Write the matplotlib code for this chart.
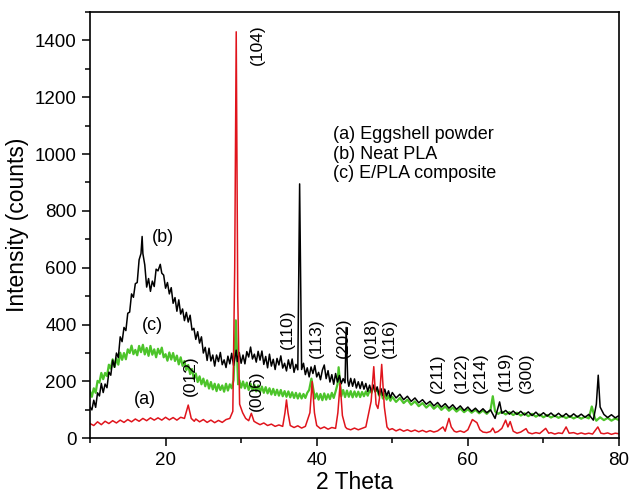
import matplotlib
matplotlib.use("Agg")
import matplotlib.pyplot as plt
from matplotlib.ticker import MultipleLocator

plt.rcParams['font.family'] = ['Liberation Sans', 'DejaVu Sans']

# (b) Neat PLA
pla_x = [10.0, 10.25, 10.5, 10.75, 11.0, 11.25, 11.5, 11.75, 12.0, 12.25, 12.5, 12.75, 13.0, 13.25, 13.5, 13.75,
         14.0, 14.25, 14.5, 14.75, 15.0, 15.25, 15.5, 15.75, 16.0, 16.25, 16.5, 16.75, 16.9, 17.0, 17.25, 17.5,
         17.75, 18.0, 18.25, 18.5, 18.75, 19.0, 19.3, 19.5, 19.75, 20.0, 20.25, 20.5, 20.75, 21.0, 21.25, 21.5,
         21.75, 22.0, 22.25, 22.5, 22.75, 23.0, 23.25, 23.5, 23.75, 24.0, 24.25, 24.5, 24.75, 25.0, 25.25, 25.5,
         25.75, 26.0, 26.25, 26.5, 26.75, 27.0, 27.25, 27.5, 27.75, 28.0, 28.25, 28.5, 28.75, 29.0, 29.35, 29.5,
         29.75, 30.0, 30.25, 30.5, 30.75, 31.0, 31.25, 31.5, 31.75, 32.0, 32.25, 32.5, 32.75, 33.0, 33.25, 33.5,
         33.75, 34.0, 34.25, 34.5, 34.75, 35.0, 35.25, 35.5, 35.75, 36.0, 36.25, 36.5, 36.75, 37.0, 37.25, 37.5,
         37.74, 38.0, 38.25, 38.5, 38.75, 39.0, 39.25, 39.5, 39.75, 40.0, 40.25, 40.5, 40.75, 41.0, 41.25, 41.5,
         41.75, 42.0, 42.25, 42.5, 42.75, 43.0, 43.25, 43.5, 43.75, 43.9, 44.1, 44.25, 44.5, 44.75, 45.0, 45.25,
         45.5, 45.75, 46.0, 46.25, 46.5, 46.75, 47.0, 47.25, 47.5, 47.75, 48.0, 48.25, 48.5, 48.75, 49.0, 49.25,
         49.5, 49.75, 50.0, 50.5, 51.0, 51.5, 52.0, 52.5, 53.0, 53.5, 54.0, 54.5, 55.0, 55.5, 56.0, 56.5,
         57.0, 57.5, 58.0, 58.5, 59.0, 59.5, 60.0, 60.5, 61.0, 61.5, 62.0, 62.5, 63.0, 63.6, 64.2, 64.5,
         65.0, 65.5, 66.0, 66.5, 67.0, 67.5, 68.0, 68.5, 69.0, 69.5, 70.0, 70.5, 71.0, 71.5, 72.0, 72.5,
         73.0, 73.5, 74.0, 74.5, 75.0, 75.5, 76.0, 76.6, 77.0, 77.25, 77.5, 78.0, 78.5, 79.0, 79.5, 80.0]
pla_y = [110, 100, 134, 109, 160, 149, 193, 161, 191, 178, 233, 222, 275, 250, 300, 284,
         357, 340, 390, 379, 440, 444, 508, 496, 544, 548, 628, 650, 710, 650, 610, 532,
         562, 517, 553, 534, 595, 589, 612, 581, 574, 528, 548, 508, 530, 475, 495, 447,
         487, 437, 455, 414, 443, 409, 433, 381, 387, 348, 375, 335, 357, 300, 320, 274,
         317, 272, 293, 254, 293, 270, 302, 259, 276, 249, 289, 262, 299, 256, 310, 270,
         302, 264, 293, 262, 305, 286, 321, 279, 296, 268, 306, 275, 307, 260, 288, 248,
         296, 254, 278, 242, 281, 258, 290, 247, 264, 237, 276, 246, 279, 232, 260, 241,
         895, 242, 264, 224, 248, 216, 251, 228, 256, 216, 232, 206, 240, 258, 210, 238,
         198, 224, 190, 228, 198, 221, 192, 210, 195, 390, 205, 183, 211, 183, 209, 177,
         199, 175, 199, 173, 193, 165, 187, 163, 187, 163, 181, 153, 175, 151, 173, 149,
         167, 143, 161, 142, 155, 136, 148, 130, 142, 125, 136, 120, 130, 114, 126, 110,
         122, 106, 118, 102, 114, 98, 110, 95, 106, 92, 104, 90, 100, 70, 128, 88,
         98, 85, 96, 84, 95, 82, 93, 80, 92, 79, 90, 78, 89, 77, 88, 76,
         87, 75, 86, 75, 85, 74, 84, 64, 120, 222, 110, 84, 73, 83, 72, 80]

# (c) E/PLA composite
comp_x = [10.0, 10.25, 10.5, 10.75, 11.0, 11.25, 11.5, 11.75, 12.0, 12.25, 12.5, 12.75, 13.0, 13.25, 13.5, 13.75,
          14.0, 14.25, 14.5, 14.75, 15.0, 15.25, 15.5, 15.75, 16.0, 16.25, 16.5, 16.75, 17.0, 17.25, 17.5, 17.75,
          18.0, 18.25, 18.5, 18.75, 19.0, 19.25, 19.5, 19.75, 20.0, 20.25, 20.5, 20.75, 21.0, 21.25, 21.5, 21.75,
          22.0, 22.25, 22.5, 22.75, 23.0, 23.25, 23.5, 23.75, 24.0, 24.25, 24.5, 24.75, 25.0, 25.25, 25.5, 25.75,
          26.0, 26.25, 26.5, 26.75, 27.0, 27.25, 27.5, 27.75, 28.0, 28.25, 28.5, 28.75, 29.0, 29.3, 29.6, 29.75,
          30.0, 30.25, 30.5, 30.75, 31.0, 31.25, 31.5, 31.75, 32.0, 32.25, 32.5, 32.75, 33.0, 33.25, 33.5, 33.75,
          34.0, 34.25, 34.5, 34.75, 35.0, 35.25, 35.5, 35.75, 36.0, 36.25, 36.5, 36.75, 37.0, 37.25, 37.5, 37.75,
          38.0, 38.25, 38.5, 38.75, 39.0, 39.3, 39.6, 39.75, 40.0, 40.25, 40.5, 40.75, 41.0, 41.25, 41.5, 41.75,
          42.0, 42.25, 42.5, 42.75, 42.9, 43.1, 43.25, 43.5, 43.75, 44.0, 44.25, 44.5, 44.75, 45.0, 45.25, 45.5,
          45.75, 46.0, 46.25, 46.5, 46.75, 47.0, 47.25, 47.5, 47.75, 48.0, 48.25, 48.5, 48.75, 49.0, 49.25, 49.5,
          49.75, 50.0, 50.5, 51.0, 51.5, 52.0, 52.5, 53.0, 53.5, 54.0, 54.5, 55.0, 55.5, 56.0, 56.5, 57.0,
          57.5, 58.0, 58.5, 59.0, 59.5, 60.0, 60.5, 61.0, 61.5, 62.0, 62.5, 63.0, 63.3, 63.6, 64.0, 64.5,
          65.0, 65.5, 66.0, 66.5, 67.0, 67.5, 68.0, 68.5, 69.0, 69.5, 70.0, 70.5, 71.0, 71.5, 72.0, 72.5,
          73.0, 73.5, 74.0, 74.5, 75.0, 75.5, 76.0, 76.4, 76.8, 77.0, 77.5, 78.0, 78.5, 79.0, 79.5, 80.0]
comp_y = [166, 146, 176, 160, 202, 196, 230, 208, 230, 219, 259, 245, 278, 251, 281, 259,
          301, 276, 300, 278, 313, 300, 326, 296, 311, 292, 325, 303, 329, 295, 318, 290,
          325, 294, 313, 285, 315, 297, 319, 285, 296, 273, 302, 277, 300, 272, 291, 260,
          285, 255, 272, 240, 258, 226, 244, 208, 228, 198, 218, 190, 210, 183, 204, 175,
          198, 172, 192, 166, 190, 170, 186, 164, 192, 168, 190, 176, 205, 415, 190, 205,
          178, 200, 176, 196, 170, 192, 168, 188, 165, 186, 162, 182, 160, 180, 158, 176,
          154, 174, 152, 171, 150, 170, 148, 166, 146, 165, 144, 162, 142, 160, 140, 158,
          140, 156, 142, 160, 170, 210, 165, 140, 158, 136, 156, 134, 158, 136, 155, 138,
          160, 142, 165, 190, 250, 190, 148, 170, 145, 168, 146, 166, 144, 165, 146, 164,
          145, 163, 148, 165, 150, 168, 160, 185, 165, 172, 150, 165, 140, 156, 136, 150,
          132, 146, 128, 142, 124, 136, 118, 130, 113, 124, 108, 120, 104, 116, 100, 112,
          97, 108, 94, 105, 92, 102, 90, 100, 88, 98, 86, 100, 148, 95, 86, 94,
          84, 92, 82, 90, 80, 88, 78, 86, 76, 84, 74, 82, 73, 80, 72, 79,
          71, 78, 70, 77, 69, 76, 70, 112, 72, 62, 74, 64, 72, 62, 70, 64]

# (a) Eggshell powder
egg_x = [10.0, 10.5, 11.0, 11.5, 12.0, 12.5, 13.0, 13.5, 14.0, 14.5, 15.0, 15.5, 16.0, 16.5, 17.0, 17.5,
         18.0, 18.5, 19.0, 19.5, 20.0, 20.5, 21.0, 21.5, 22.0, 22.5, 23.0, 23.4, 23.8, 24.0, 24.5, 25.0,
         25.5, 26.0, 26.5, 27.0, 27.5, 28.0, 28.5, 28.9, 29.15, 29.35, 29.55, 29.8, 30.2, 30.6, 31.0, 31.35,
         31.7, 32.0, 32.5, 33.0, 33.5, 34.0, 34.5, 35.0, 35.5, 35.8, 36.0, 36.2, 36.5, 37.0, 37.5, 38.0,
         38.5, 39.1, 39.4, 39.7, 40.0, 40.5, 41.0, 41.5, 42.0, 42.5, 42.8, 43.1, 43.4, 43.8, 44.0, 44.5,
         45.0, 45.5, 46.0, 46.5, 47.2, 47.55, 47.85, 48.1, 48.3, 48.6, 48.95, 49.3, 49.6, 50.0, 50.5, 51.0,
         51.5, 52.0, 52.5, 53.0, 53.5, 54.0, 54.5, 55.0, 55.5, 56.0, 56.7, 57.0, 57.5, 57.8, 58.2, 58.5,
         59.0, 59.5, 60.0, 60.6, 61.2, 61.6, 62.0, 62.5, 63.0, 63.3, 63.6, 64.0, 64.5, 65.0, 65.3, 65.6,
         66.0, 66.5, 67.0, 67.7, 68.0, 68.5, 69.0, 69.5, 70.3, 70.7, 71.0, 71.5, 72.0, 72.5, 73.0, 73.4,
         74.0, 74.5, 75.0, 75.5, 76.0, 76.5, 77.2, 77.6, 78.0, 78.5, 79.0, 79.5, 80.0]
egg_y = [52, 45, 58, 48, 60, 52, 62, 54, 64, 56, 66, 58, 68, 60, 70, 62,
         72, 64, 72, 64, 74, 65, 73, 64, 74, 70, 117, 70, 60, 68, 58, 66,
         56, 64, 55, 63, 56, 66, 70, 95, 600, 1430, 500, 120, 90, 70, 62, 88,
         60, 55, 48, 54, 45, 50, 42, 47, 42, 90, 135, 90, 45, 38, 44, 36,
         42, 90, 200, 90, 45, 34, 40, 32, 38, 35, 90, 193, 80, 40, 34, 30,
         36, 30, 35, 40, 130, 252, 120, 105, 140, 260, 110, 40, 30, 34, 26, 32,
         25, 30, 24, 29, 23, 28, 22, 27, 22, 26, 40, 25, 70, 40, 25, 22,
         26, 21, 30, 66, 55, 30, 22, 20, 24, 36, 20, 24, 35, 64, 40, 59,
         25, 18, 22, 34, 20, 16, 20, 17, 35, 18, 20, 15, 19, 17, 40, 18,
         20, 15, 19, 15, 18, 15, 40, 18, 16, 19, 14, 18, 16]

hkl_labels = ['(012)', '(104)', '(006)', '(110)', '(113)', '(202)', '(018)', '(116)',
              '(211)', '(122)', '(214)', '(119)', '(300)']
hkl_x = [23.3, 32.2, 32.0, 36.1, 40.0, 43.5, 47.2, 49.6, 56.0, 59.1, 61.7, 65.0, 67.7]
hkl_y = [220, 1385, 167, 385, 352, 353, 353, 353, 230, 230, 230, 235, 232]

fig = plt.figure(figsize=(6.31, 4.96), dpi=100)
ax = fig.add_axes([0.1426, 0.1163, 0.8384, 0.8597])

ax.plot(comp_x, comp_y, color='#4cc42a', lw=1.6)
ax.plot(pla_x, pla_y, color='black', lw=1.1)
ax.plot(egg_x, egg_y, color='#e0141c', lw=1.1)

for lab, x, y in zip(hkl_labels, hkl_x, hkl_y):
    ax.text(x, y, lab, rotation=90, ha='center', va='center', fontsize=12.5)

ax.text(19.6, 705, '(b)', ha='center', va='center', fontsize=13)
ax.text(18.2, 397, '(c)', ha='center', va='center', fontsize=13)
ax.text(17.3, 135, '(a)', ha='center', va='center', fontsize=13)

ax.text(42.1, 1000, '(a) Eggshell powder\n(b) Neat PLA\n(c) E/PLA composite',
        ha='left', va='center', fontsize=13, linespacing=1.2)

ax.set_xlim(10, 80)
ax.set_ylim(0, 1500)
ax.set_xticks([20, 40, 60, 80])
ax.set_yticks(range(0, 1401, 200))
ax.xaxis.set_minor_locator(MultipleLocator(10))
ax.yaxis.set_minor_locator(MultipleLocator(100))
ax.tick_params(which='major', direction='out', length=6, width=1.1, labelsize=13.5)
ax.tick_params(which='minor', direction='out', length=3.5, width=1.1)
for s in ax.spines.values():
    s.set_linewidth(1.2)
ax.set_xlabel('2 Theta', fontsize=16.5, labelpad=2)
ax.set_ylabel('Intensity (counts)', fontsize=16.5, labelpad=4)

fig.savefig('out.png', dpi=100)
